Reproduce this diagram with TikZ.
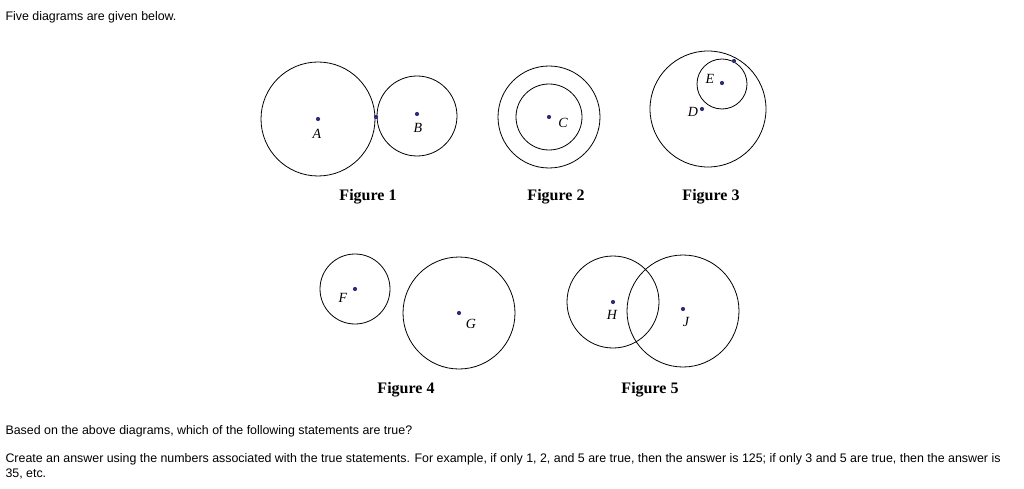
\documentclass[tikz,border=0pt]{standalone}
\usepackage{fontspec}
\setmainfont{Liberation Serif}
\setsansfont{Liberation Sans}
\usepackage{tikz}
\definecolor{dotblue}{RGB}{45,45,120}
\tikzset{
  circ/.style={line width=0.8pt},
  pt/.style={circle,fill=dotblue,inner sep=0pt,minimum size=4.2pt},
  lab/.style={font=\fontsize{14}{14}\selectfont\itshape},
  fig/.style={font=\fontsize{16}{16}\selectfont\bfseries},
  txt/.style={font=\sffamily\fontsize{12.4}{15}\selectfont,anchor=west,align=left}
}
\begin{document}
\begin{tikzpicture}[x=1pt,y=-1pt]
	\useasboundingbox (0,0) rectangle (1024,489);
	\node[txt] (head) at (2,17) {Five diagrams are given below.};
	% figure 1
	\draw[circ] (318,119) circle (57);
	\draw[circ] (417,116) circle (40);
	\node[pt] (A) at (318,119) {};
	\node[pt] (B) at (417,114) {};
	\node[pt] (T) at (376,117) {};
	\node[lab] at (317,134) {A};
	\node[lab] at (418,128) {B};
	\node[fig] (f1) at (368,197) {Figure 1};
	% figure 2
	\draw[circ] (549,117) circle (51);
	\draw[circ] (549,117) circle (33);
	\node[pt] (C) at (549,117) {};
	\node[lab] at (563,123) {C};
	\node[fig] (f2) at (556,197) {Figure 2};
	% figure 3
	\draw[circ] (708,109) circle (58);
	\draw[circ] (722,84) circle (25);
	\node[pt] (D) at (702,109) {};
	\node[pt] (E) at (722,83) {};
	\node[pt] (S) at (734,61) {};
	\node[lab] at (693,112) {D};
	\node[lab] at (710,79) {E};
	\node[fig] (f3) at (711,197) {Figure 3};
	% figure 4
	\draw[circ] (355,289) circle (35);
	\draw[circ] (459,313) circle (56);
	\node[pt] (F) at (355,289) {};
	\node[pt] (G) at (459,313) {};
	\node[lab] at (343,298) {F};
	\node[lab] at (471,324) {G};
	\node[fig] (f4) at (406,390) {Figure 4};
	% figure 5
	\draw[circ] (613,302) circle (46);
	\draw[circ] (683,311) circle (56);
	\node[pt] (H) at (613,302) {};
	\node[pt] (J) at (683,309) {};
	\node[lab] at (612,315) {H};
	\node[lab] at (686,322) {J};
	\node[fig] (f5) at (650,390) {Figure 5};
	% question
	\node[txt] (q1) at (2,431) {Based on the above diagrams, which of the following statements are true?};
	\node[txt,anchor=north west] (q2) at (2,450) {Create an answer using the numbers associated with the true statements. For example, if only 1, 2, and 5 are true, then the answer is 125; if only 3 and 5 are true, then the answer is\\35, etc.};
\end{tikzpicture}
\end{document}
